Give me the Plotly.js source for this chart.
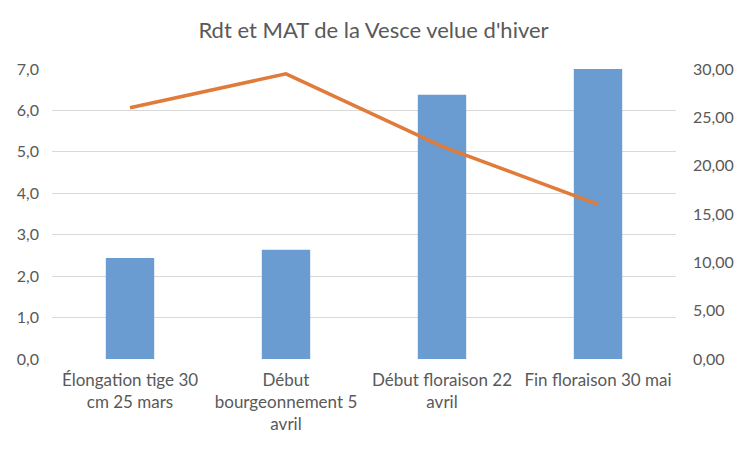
<!DOCTYPE html>
<html>
<head>
<meta charset="utf-8">
<script src="https://cdn.plot.ly/plotly-3.0.1.min.js"></script>
<style>html,body{margin:0;padding:0;background:#fff;}#chart{width:747px;height:449px;}</style>
</head>
<body>
<div id="chart"></div>
<script>
const categories = [
  "Élongation tige 30<br>cm 25 mars",
  "Début<br>bourgeonnement 5<br>avril",
  "Début floraison 22<br>avril",
  "Fin floraison 30 mai"
];
const rdtValues = [2.44, 2.64, 6.38, 7.0];
const matValues = [26.0, 29.5, 22.0, 16.0];
const leftTicks = [0, 1, 2, 3, 4, 5, 6, 7];
const rightTicks = [0, 5, 10, 15, 20, 25, 30];

const fontFamily = "Lato, 'Open Sans', sans-serif";
const textColor = "#595959";

const traces = [
  {
    type: "bar",
    x: categories,
    y: rdtValues,
    name: "Rdt",
    marker: {color: "#6a9bd1"},
    width: 0.31,
    yaxis: "y",
    hoverinfo: "skip"
  },
  {
    type: "scatter",
    mode: "lines",
    x: categories,
    y: matValues,
    name: "MAT",
    line: {color: "#e07b39", width: 3.5},
    yaxis: "y2",
    hoverinfo: "skip"
  }
];

const layout = {
  width: 747,
  height: 449,
  separators: ", ",
  paper_bgcolor: "#ffffff",
  plot_bgcolor: "#ffffff",
  showlegend: false,
  margin: {l: 52, r: 71, t: 69, b: 90},
  font: {family: fontFamily, color: textColor, size: 16},
  title: {
    text: "Rdt et MAT de la Vesce velue d'hiver",
    font: {family: fontFamily, size: 22, color: textColor},
    x: 0.5, xanchor: "center", y: 0.933, yanchor: "middle"
  },
  xaxis: {
    type: "category",
    showgrid: false,
    showline: false,
    zeroline: false,
    ticks: "",
    tickfont: {size: 17, color: textColor},
    tickangle: 0,
    ticklabelstandoff: 9,
    automargin: false
  },
  yaxis: {
    range: [0, 7],
    tickvals: leftTicks,
    tickformat: ".1f",
    showgrid: true,
    gridcolor: "#d9d9d9",
    gridwidth: 1,
    zeroline: false,
    showline: false,
    ticks: "",
    ticklabelstandoff: 12,
    tickfont: {size: 16, color: textColor},
    automargin: false
  },
  yaxis2: {
    range: [0, 30],
    tickvals: rightTicks,
    tickformat: ".2f",
    overlaying: "y",
    side: "right",
    showgrid: false,
    zeroline: false,
    showline: false,
    ticks: "",
    ticklabelstandoff: 16,
    tickfont: {size: 16, color: textColor},
    automargin: false
  }
};

Plotly.newPlot("chart", traces, layout, {displayModeBar: false, staticPlot: true});
</script>
</body>
</html>
